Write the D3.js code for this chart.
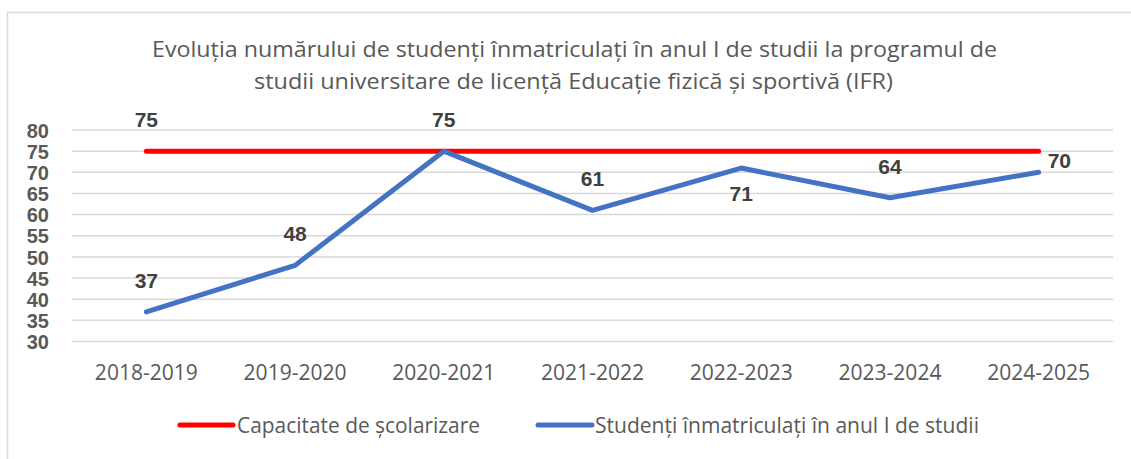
<!DOCTYPE html>
<html><head><meta charset="utf-8">
<script src="https://cdn.jsdelivr.net/npm/d3@7"></script>
<style>body{margin:0;background:#fff}svg{display:block}</style>
</head><body>
<svg id="c" width="1131" height="459"></svg>
<script>
const categories = ["2018-2019","2019-2020","2020-2021","2021-2022","2022-2023","2023-2024","2024-2025"];
const capacity = [75,75,75,75,75,75,75];
const students = [37,48,75,61,71,64,70];
const yTicks = [30,35,40,45,50,55,60,65,70,75,80];
const titleLines = ["Evoluția numărului de studenți înmatriculați în anul I de studii la programul de","studii universitare de licență Educație fizică și sportivă (IFR)"];
const seriesNames = ["Capacitate de școlarizare","Studenți înmatriculați în anul I de studii"];
const labelPos = ["above","above","above","above","below","above","right"];

const svg = d3.select("#c");
const font = "Open Sans, Liberation Sans, sans-serif";
const grey = "#595959";

// chart box
svg.append("rect").attr("x",7.5).attr("y",12.5).attr("width",1140).attr("height",460)
  .attr("fill","#fff").attr("stroke","#d9d9d9").attr("stroke-width",1.5);

const x = d3.scaleBand().domain(categories).range([72,1113]);
const y = d3.scaleLinear().domain([30,80]).range([341.5,130]);
const cx = d => x(d)+x.bandwidth()/2;

// gridlines
svg.append("g").selectAll("line").data(yTicks).join("line")
  .attr("x1",72).attr("x2",1113).attr("y1",d=>y(d)).attr("y2",d=>y(d))
  .attr("stroke","#d9d9d9").attr("stroke-width",1.5);

// y axis labels
const yAxis = d3.axisLeft(y).tickValues(yTicks).tickSize(0).tickPadding(0);
const gy = svg.append("g").attr("transform","translate(49,0)").call(yAxis);
gy.select(".domain").remove();
gy.selectAll("text").attr("font-family","Liberation Sans, sans-serif").attr("font-weight","bold")
  .attr("font-size",20).attr("fill",grey).attr("dy","0.36em");

// x axis labels
const xAxis = d3.axisBottom(x).tickSize(0).tickPadding(0);
const gx = svg.append("g").attr("transform","translate(0,365)").call(xAxis);
gx.select(".domain").remove();
gx.selectAll("text").attr("font-family",font).attr("font-size",21).attr("fill",grey).attr("dy","0.72em")
  .attr("textLength",103).attr("lengthAdjust","spacingAndGlyphs");

// title
svg.append("g").selectAll("text").data(titleLines).join("text")
  .attr("x",(d,i)=> i===0?152:254).attr("y",(d,i)=>57+i*32)
  .attr("textLength",(d,i)=> i===0?845:639).attr("lengthAdjust","spacingAndGlyphs")
  .attr("font-family",font).attr("font-size",22).attr("fill",grey).text(d=>d);

const line = d3.line().x((d,i)=>cx(categories[i])).y(d=>y(d));
svg.append("path").datum(capacity).attr("d",line).attr("fill","none")
  .attr("stroke","#ff0000").attr("stroke-width",5).attr("stroke-linecap","round");
svg.append("path").datum(students).attr("d",line).attr("fill","none")
  .attr("stroke","#4472c4").attr("stroke-width",5).attr("stroke-linecap","round").attr("stroke-linejoin","round");

// labels
const lblStyle = s => s.attr("font-family","Liberation Sans, sans-serif").attr("font-weight","bold")
  .attr("font-size",21).attr("fill","#404040");
svg.append("text").attr("x",cx(categories[0])).attr("y",y(capacity[0])-32).attr("text-anchor","middle")
  .attr("dy","0.36em").call(lblStyle).text(capacity[0]);
svg.append("g").selectAll("text").data(students).join("text")
  .attr("x",(d,i)=> labelPos[i]==="right"? cx(categories[i])+9 : cx(categories[i]))
  .attr("y",(d,i)=> labelPos[i]==="above"? y(d)-31.5 : labelPos[i]==="below"? y(d)+25 : y(d)-11.5)
  .attr("text-anchor",(d,i)=> labelPos[i]==="right"?"start":"middle")
  .attr("dy","0.36em").call(lblStyle).text(d=>d);

// legend
const leg = [{x:180,w:53,c:"#ff0000",tx:237,tl:243},{x:538,w:54,c:"#4472c4",tx:595,tl:384}];
leg.forEach((l,i)=>{
  svg.append("line").attr("x1",l.x).attr("x2",l.x+l.w).attr("y1",425).attr("y2",425)
    .attr("stroke",l.c).attr("stroke-width",5).attr("stroke-linecap","round");
  svg.append("text").attr("x",l.tx).attr("y",425).attr("dy","0.36em")
    .attr("textLength",l.tl).attr("lengthAdjust","spacingAndGlyphs")
    .attr("font-family",font).attr("font-size",21).attr("fill",grey).text(seriesNames[i]);
});
</script>
</body></html>
